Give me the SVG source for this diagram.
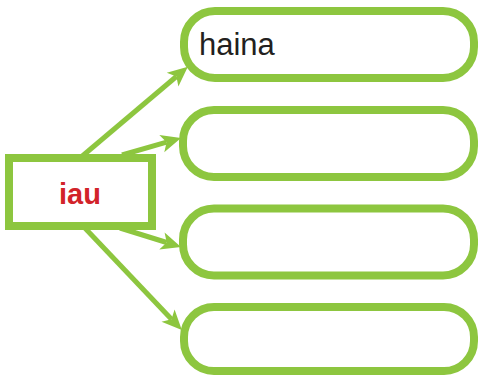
<svg xmlns="http://www.w3.org/2000/svg" width="479" height="376" viewBox="0 0 479 376">
<style>
.box{fill:#fff;stroke:#8dc63f;stroke-width:8}
.conn{stroke:#8dc63f;stroke-width:5;fill:none}
</style>
<defs>
<marker id="ah" markerUnits="userSpaceOnUse" markerWidth="24" markerHeight="24" refX="5" refY="0" orient="auto" overflow="visible">
<path d="M20,0 L0,-9 L5,0 L0,9 Z" fill="#8dc63f"/>
</marker>
</defs>
<rect width="479" height="376" fill="#fff"/>
<g id="connectors">
<line class="conn" x1="80" y1="158" x2="176.4" y2="76.5" marker-end="url(#ah)"/>
<line class="conn" x1="122" y1="155" x2="166.6" y2="142.2" marker-end="url(#ah)"/>
<line class="conn" x1="120" y1="228" x2="166.7" y2="242.5" marker-end="url(#ah)"/>
<line class="conn" x1="83" y1="226" x2="171.5" y2="319.2" marker-end="url(#ah)"/>
</g>
<g id="iau">
<rect class="box" x="9" y="158" width="143" height="68"/>
<text x="80" y="204" text-anchor="middle" font-family="Liberation Sans, Arial, sans-serif" font-weight="bold" font-size="29" fill="#d2232a">iau</text>
</g>
<g id="haina">
<rect class="box" x="184" y="11" width="290" height="67" rx="31"/>
<text x="199" y="55" font-family="Liberation Sans, Arial, sans-serif" font-size="31" fill="#231f20">haina</text>
</g>
<g id="box2">
<rect class="box" x="183" y="110" width="291" height="67" rx="31"/>
</g>
<g id="box3">
<rect class="box" x="183" y="208.5" width="291" height="67" rx="31"/>
</g>
<g id="box4">
<rect class="box" x="184" y="307" width="290" height="64" rx="30"/>
</g>
</svg>
